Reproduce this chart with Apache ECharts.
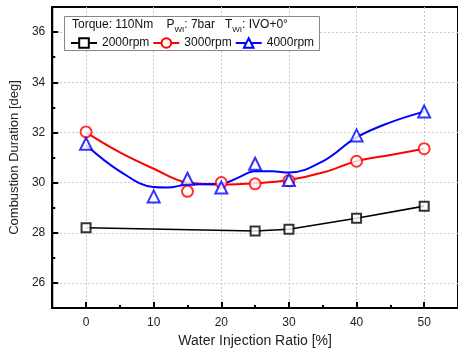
<!DOCTYPE html>
<html>
<head>
<meta charset="utf-8">
<script src="https://cdn.jsdelivr.net/npm/echarts@6/dist/echarts.min.js"></script>
<style>
  html, body { margin: 0; padding: 0; background: #fff; }
  #chart { width: 458px; height: 354px; }
</style>
</head>
<body>
<div id="chart"></div>
<script>
// measured points
const x2000 = [0, 25, 30, 40, 50];
const y2000 = [28.2, 28.07, 28.14, 28.58, 29.06];
const x3000 = [0, 15, 20, 25, 30, 40, 50];
const y3000 = [32.02, 29.65, 30.0, 29.95, 30.08, 30.85, 31.35];
const x4000 = [0, 10, 15, 20, 25, 30, 40, 50];
const y4000 = [31.55, 29.45, 30.15, 29.8, 30.75, 30.1, 31.88, 32.83];

// fitted curves
const fit2000x = [0, 25, 30, 40, 50];
const fit2000y = [28.2, 28.07, 28.14, 28.58, 29.06];
const fit3000x = [0, 5, 10, 15, 20, 25, 30, 35, 40, 45, 50];
const fit3000y = [32.0, 31.2, 30.55, 30.0, 29.92, 29.97, 30.1, 30.4, 30.85, 31.1, 31.35];
const fit4000x = [0, 5, 10, 12, 15, 20, 22.5, 25, 27.5, 30, 35, 40, 45, 50];
const fit4000y = [31.5, 30.45, 29.82, 29.8, 29.92, 29.95, 30.2, 30.45, 30.45, 30.4, 30.85, 31.8, 32.4, 32.83];

const xMajor = [0, 10, 20, 30, 40, 50];
const xMinor = [5, 15, 25, 35, 45];
const yMajor = [26, 28, 30, 32, 34, 36];
const yMinor = [25, 27, 29, 31, 33, 35];

const zip = (xs, ys) => xs.map((x, i) => [x, ys[i]]);

const chart = echarts.init(document.getElementById('chart'));
const font = 'Arial, "Liberation Sans", sans-serif';
const grid = {left: 52, right: -2, top: 7, bottom: 46, show: true,
  borderColor: '#000', borderWidth: 2, backgroundColor: 'transparent'};

const splitLine = {show: true, lineStyle: {color: '#c8c8c8', type: [2, 2], width: 1}};

const option = {
  animation: false,
  grid: grid,
  xAxis: [{
    type: 'value', min: -5, max: 55, interval: 5,
    name: 'Water Injection Ratio [%]', nameLocation: 'middle', nameGap: 26,
    nameTextStyle: {fontSize: 14, color: '#222', fontFamily: font},
    axisLine: {show: true, onZero: false, lineStyle: {color: '#000', width: 2}},
    axisTick: {show: true, inside: true, length: 6, lineStyle: {width: 2, color: '#000'}, customValues: xMajor},
    axisLabel: {fontSize: 12, color: '#222', fontFamily: font, margin: 9, customValues: xMajor},
    splitLine: splitLine
  }, {
    type: 'value', min: -5, max: 55, interval: 5, position: 'bottom',
    axisLine: {show: false, onZero: false},
    axisTick: {show: true, inside: true, length: 3, lineStyle: {width: 2, color: '#000'}, customValues: xMinor},
    axisLabel: {show: false},
    splitLine: {show: false}
  }],
  yAxis: [{
    type: 'value', min: 25, max: 37, interval: 1,
    name: 'Combustion Duration [deg]', nameLocation: 'middle', nameGap: 28,
    nameTextStyle: {fontSize: 13, color: '#222', fontFamily: font},
    axisLine: {show: true, onZero: false, lineStyle: {color: '#000', width: 2}},
    axisTick: {show: true, inside: true, length: 6, lineStyle: {width: 2, color: '#000'}, customValues: yMajor},
    axisLabel: {fontSize: 12, color: '#222', fontFamily: font, margin: 7, customValues: yMajor},
    splitLine: splitLine
  }, {
    type: 'value', min: 25, max: 37, interval: 1, position: 'left',
    axisLine: {show: false, onZero: false},
    axisTick: {show: true, inside: true, length: 3, lineStyle: {width: 2, color: '#000'}, customValues: yMinor},
    axisLabel: {show: false},
    splitLine: {show: false}
  }],
  legend: {
    left: 70, top: 37, itemWidth: 26, itemHeight: 12, itemGap: 3, padding: 0,
    textStyle: {fontSize: 12, color: '#111', fontFamily: font},
    data: ['2000rpm', '3000rpm', '4000rpm']
  },
  graphic: [{
    type: 'rect', z: 3, shape: {x: 64.5, y: 16.5, width: 255, height: 34},
    style: {fill: '#fff', stroke: '#888', lineWidth: 1}
  }, {
    type: 'text', z: 4, left: 72, top: 19,
    style: {
      text: '{a|Torque: 110Nm    P}{s|WI}{a|: 7bar   T}{s|WI}{a|: IVO+0°}',
      fill: '#111', fontFamily: font,
      rich: {
        a: {fontSize: 12, fontFamily: font, fill: '#111', verticalAlign: 'bottom'},
        s: {fontSize: 8, fontFamily: font, fill: '#111', verticalAlign: 'bottom', padding: [0, 0, -3, 0]}
      }
    }
  }],
  series: [
    {name: '2000rpm', type: 'line', data: zip(fit2000x, fit2000y), smooth: false,
      symbol: 'emptyRect', symbolSize: 9, showSymbol: false,
      lineStyle: {color: '#000', width: 1.6}, itemStyle: {color: '#000', borderWidth: 2}, z: 3},
    {name: '3000rpm', type: 'line', data: zip(fit3000x, fit3000y), smooth: 0.4,
      symbol: 'emptyCircle', symbolSize: 10, showSymbol: false,
      lineStyle: {color: '#f00', width: 2}, itemStyle: {color: '#f00', borderWidth: 2}, z: 3},
    {name: '4000rpm', type: 'line', data: zip(fit4000x, fit4000y), smooth: 0.4,
      symbol: 'emptyTriangle', symbolSize: 11, showSymbol: false,
      lineStyle: {color: '#00f', width: 2}, itemStyle: {color: '#00f', borderWidth: 2}, z: 3},
    {name: '2000rpm', type: 'scatter', data: zip(x2000, y2000), symbol: 'rect', symbolSize: 9,
      itemStyle: {color: '#fff', borderColor: '#000', borderWidth: 2}, z: 5},
    {name: '3000rpm', type: 'scatter', data: zip(x3000, y3000), symbol: 'circle', symbolSize: 11,
      itemStyle: {color: '#fff', borderColor: '#f00', borderWidth: 2}, z: 5},
    {name: '4000rpm', type: 'scatter', data: zip(x4000, y4000), symbol: 'triangle', symbolSize: 12,
      itemStyle: {color: '#fff', borderColor: '#00f', borderWidth: 2}, z: 5}
  ]
};
chart.setOption(option);
</script>
</body>
</html>
